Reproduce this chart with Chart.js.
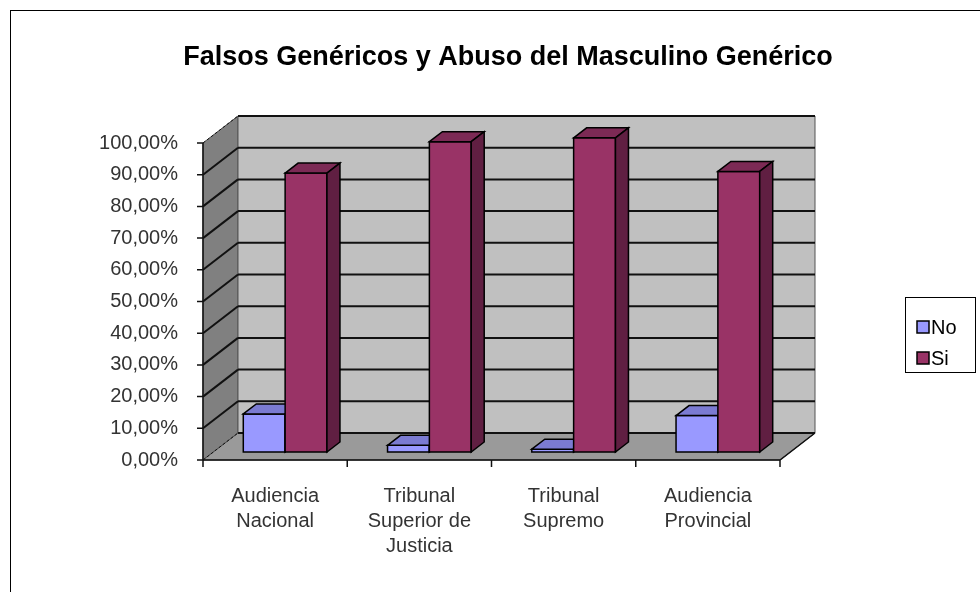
<!DOCTYPE html>
<html>
<head>
<meta charset="utf-8">
<script src="https://cdn.jsdelivr.net/npm/chart.js@4/dist/chart.umd.min.js"></script>
<style>
  body { margin: 0; background: #fff; }
  canvas { display: block; }
</style>
</head>
<body>
<canvas id="myChart" width="980" height="592"></canvas>
<script>
// data
const categories = [
  ['Audiencia', 'Nacional'],
  ['Tribunal', 'Superior de', 'Justicia'],
  ['Tribunal', 'Supremo'],
  ['Audiencia', 'Provincial']
];
const seriesNo = [12.0, 2.1, 0.9, 11.5];
const seriesSi = [88.0, 97.9, 99.1, 88.5];
const titleText = 'Falsos Genéricos y Abuso del Masculino Genérico';

const FONT = '"Liberation Sans", Arial, sans-serif';

// 3d look: wall depth and bar depth
const WALL_DX = 35, WALL_DY = 27;
const BAR_OX = 10, BAR_OY = 8;
const BAR_DX = 13, BAR_DY = 10;

const faceColors = [
  { front: '#9999ff', top: '#7b7bd2', side: '#5f5fa8' },
  { front: '#993366', top: '#7c2a55', side: '#601f42' }
];

function poly(ctx, pts, fill) {
  ctx.beginPath();
  ctx.moveTo(pts[0][0], pts[0][1]);
  for (let i = 1; i < pts.length; i++) ctx.lineTo(pts[i][0], pts[i][1]);
  ctx.closePath();
  if (fill) { ctx.fillStyle = fill; ctx.fill(); }
  ctx.stroke();
}

const threeD = {
  id: 'threeD',
  beforeDatasetsDraw(chart) {
    const ctx = chart.ctx;
    const { left: L, right: R, top: T, bottom: B } = chart.chartArea;
    const yScale = chart.scales.y;
    ctx.save();
    ctx.lineJoin = 'miter';

    // walls and floor
    ctx.strokeStyle = '#555';
    ctx.lineWidth = 1;
    poly(ctx, [[L, T], [L + WALL_DX, T - WALL_DY], [L + WALL_DX, B - WALL_DY], [L, B]], '#808080');
    poly(ctx, [[L + WALL_DX, T - WALL_DY], [R + WALL_DX, T - WALL_DY], [R + WALL_DX, B - WALL_DY], [L + WALL_DX, B - WALL_DY]], '#c0c0c0');
    poly(ctx, [[L, B], [R, B], [R + WALL_DX, B - WALL_DY], [L + WALL_DX, B - WALL_DY]], '#9a9a9a');

    // gridlines
    ctx.strokeStyle = '#111';
    yScale.ticks.forEach(t => {
      const y = yScale.getPixelForValue(t.value);
      const edge = t.value === yScale.min || t.value === yScale.max;
      ctx.setLineDash(edge ? [3, 2] : []);
      ctx.lineWidth = edge ? 1 : 2;
      ctx.beginPath();
      ctx.moveTo(L, y);
      ctx.lineTo(L + WALL_DX, y - WALL_DY);
      ctx.stroke();
      ctx.setLineDash([]);
      ctx.lineWidth = 2;
      ctx.beginPath();
      ctx.moveTo(L + WALL_DX, y - WALL_DY);
      ctx.lineTo(R + WALL_DX, y - WALL_DY);
      ctx.stroke();
    });

    // axis lines and ticks
    ctx.lineWidth = 1.5;
    ctx.beginPath();
    ctx.moveTo(L, T); ctx.lineTo(L, B);
    ctx.lineTo(R, B); ctx.lineTo(R + WALL_DX, B - WALL_DY);
    yScale.ticks.forEach(t => {
      const y = yScale.getPixelForValue(t.value);
      ctx.moveTo(L - 6, y); ctx.lineTo(L, y);
    });
    const step = (R - L) / categories.length;
    for (let i = 0; i <= categories.length; i++) {
      ctx.moveTo(L + i * step, B); ctx.lineTo(L + i * step, B + 7);
    }
    ctx.stroke();

    // bars
    ctx.strokeStyle = '#000';
    ctx.lineWidth = 1.5;
    const metas = [chart.getDatasetMeta(0), chart.getDatasetMeta(1)];
    for (let i = 0; i < categories.length; i++) {
      metas.forEach((meta, d) => {
        const el = meta.data[i];
        const c = faceColors[d];
        const l = el.x - el.width / 2 + BAR_OX;
        const r = el.x + el.width / 2 + BAR_OX;
        const top = el.y - BAR_OY;
        const bot = el.base - BAR_OY;
        poly(ctx, [[l, top], [r, top], [r, bot], [l, bot]], c.front);
        poly(ctx, [[l, top], [l + BAR_DX, top - BAR_DY], [r + BAR_DX, top - BAR_DY], [r, top]], c.top);
        poly(ctx, [[r, top], [r + BAR_DX, top - BAR_DY], [r + BAR_DX, bot - BAR_DY], [r, bot]], c.side);
      });
    }
    ctx.restore();
    return false;
  },
  afterDraw(chart) {
    const ctx = chart.ctx;
    ctx.save();
    // outer frame
    ctx.strokeStyle = '#000';
    ctx.lineWidth = 1;
    ctx.strokeRect(10.5, 10.5, 1000, 700);

    // title
    ctx.fillStyle = '#000';
    ctx.font = 'bold 27px ' + FONT;
    ctx.textAlign = 'center';
    ctx.textBaseline = 'middle';
    ctx.fillText(titleText, 508, 58);

    // legend
    ctx.fillStyle = '#fff';
    ctx.fillRect(905, 297, 71, 75);
    ctx.strokeRect(905.5, 297.5, 70, 75);
    ctx.font = '20px ' + FONT;
    ctx.textAlign = 'left';
    chart.data.datasets.forEach((ds, k) => {
      const cy = 327 + k * 31;
      ctx.fillStyle = ds.backgroundColor;
      ctx.fillRect(917, cy - 6, 12, 12);
      ctx.lineWidth = 1.5;
      ctx.strokeRect(917, cy - 6, 12, 12);
      ctx.fillStyle = '#000';
      ctx.fillText(ds.label, 931, cy + 1);
    });
    ctx.restore();
  }
};

const config = {
  type: 'bar',
  data: {
    labels: categories,
    datasets: [
      { label: 'No', data: seriesNo, backgroundColor: faceColors[0].front },
      { label: 'Si', data: seriesSi, backgroundColor: faceColors[1].front }
    ]
  },
  options: {
    responsive: false,
    animation: false,
    layout: { padding: { top: 143, right: 200, bottom: 0, left: 0 } },
    datasets: { bar: { categoryPercentage: 0.58, barPercentage: 1 } },
    scales: {
      x: {
        grid: { display: false, drawTicks: false },
        border: { display: false },
        ticks: { color: '#333', font: { family: FONT, size: 20, lineHeight: 1.25 }, padding: 24, maxRotation: 0, autoSkip: false },
        afterFit: (scale) => { scale.height = 132; }
      },
      y: {
        min: 0, max: 100,
        grid: { display: false, drawTicks: false },
        border: { display: false },
        ticks: {
          stepSize: 10, padding: 25, color: '#333',
          font: { family: FONT, size: 20 },
          callback: (v) => v.toFixed(2).replace('.', ',') + '%'
        },
        afterFit: (scale) => { scale.width = 203; }
      }
    },
    plugins: {
      legend: { display: false },
      title: { display: false },
      tooltip: { enabled: false }
    }
  },
  plugins: [threeD]
};

const myChart = new Chart(document.getElementById('myChart'), config);
</script>
</body>
</html>
